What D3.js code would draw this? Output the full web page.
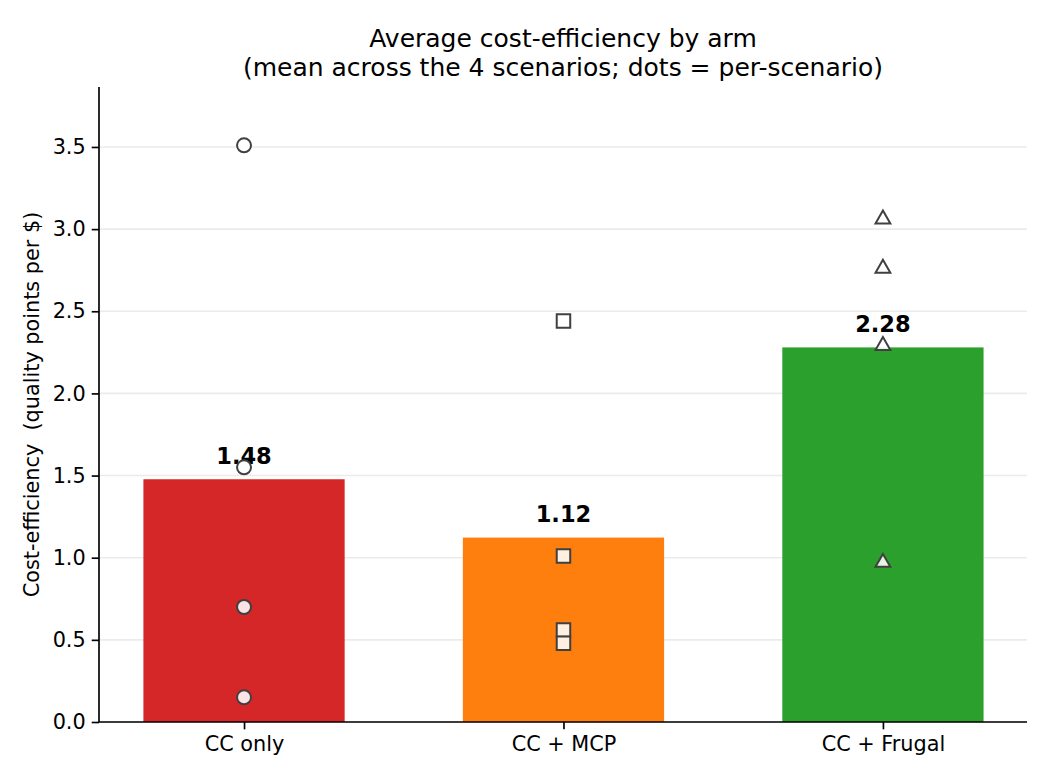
<!DOCTYPE html>
<html>
<head>
<meta charset="utf-8">
<script src="https://cdn.jsdelivr.net/npm/d3@7"></script>
<style>
  html, body { margin: 0; padding: 0; background: #ffffff; }
  svg { display: block; font-family: "DejaVu Sans", sans-serif; }
</style>
</head>
<body>
<svg id="chart" width="1050" height="780"></svg>
<script>
const categories = ["CC only", "CC + MCP", "CC + Frugal"];
const barColors = ["#d62728", "#ff7f0e", "#2ca02c"];
const markerShapes = ["circle", "square", "triangle"];
const scenarioCCOnly = [3.51, 1.55, 0.70, 0.15];
const scenarioCCMCP = [2.44, 1.01, 0.56, 0.48];
const scenarioCCFrugal = [3.07, 2.77, 2.30, 0.98];
const yTicks = [0.0, 0.5, 1.0, 1.5, 2.0, 2.5, 3.0, 3.5];
const titleLines = ["Average cost-efficiency by arm", "(mean across the 4 scenarios; dots = per-scenario)"];
const yLabel = "Cost-efficiency  (quality points per $)";

(function () {
const scenarios = [scenarioCCOnly, scenarioCCMCP, scenarioCCFrugal];
const means = scenarios.map(s => d3.mean(s));

const svg = d3.select("#chart");
svg.append("rect").attr("width", 1050).attr("height", 780).attr("fill", "#ffffff");

const pLeft = 99, pRight = 1027, pTop = 87, pBottom = 722;
const x = d3.scaleLinear().domain([-0.454, 2.451]).range([pLeft, pRight]);
const y = d3.scaleLinear().domain([0, 3.865]).range([pBottom, pTop]);
const barW = 0.63;

// grid
svg.append("g").selectAll("line").data(yTicks).join("line")
  .attr("x1", pLeft).attr("x2", pRight)
  .attr("y1", d => y(d)).attr("y2", d => y(d))
  .attr("stroke", "#ebebeb").attr("stroke-width", 1.6);

// bars
svg.append("g").selectAll("rect").data(categories).join("rect")
  .attr("x", (d, i) => x(i - barW / 2))
  .attr("width", (d, i) => x(i + barW / 2) - x(i - barW / 2))
  .attr("y", (d, i) => y(means[i]))
  .attr("height", (d, i) => y(0) - y(means[i]))
  .attr("fill", (d, i) => barColors[i]);

// value labels
svg.append("g").selectAll("text").data(categories).join("text")
  .attr("x", (d, i) => x(i))
  .attr("y", (d, i) => y(means[i]) - 15.5)
  .attr("text-anchor", "middle")
  .attr("font-size", 22.5).attr("font-weight", "bold").attr("fill", "#000")
  .text((d, i) => means[i].toFixed(2));

// markers
const symType = { circle: d3.symbolCircle, square: d3.symbolSquare, triangle: d3.symbolTriangle };
const symSize = { circle: Math.PI * 7 * 7, square: 13.5 * 13.5, triangle: 95 };
const pts = [];
scenarios.forEach((s, i) => s.forEach(v => pts.push({ i, v })));
svg.append("g").selectAll("path").data(pts).join("path")
  .attr("d", d => d3.symbol().type(symType[markerShapes[d.i]]).size(symSize[markerShapes[d.i]])())
  .attr("transform", d => `translate(${x(d.i)},${y(d.v) + (markerShapes[d.i] === "triangle" ? 1.5 : 0)})`)
  .attr("fill", "rgba(255,255,255,0.88)")
  .attr("stroke", "#404040").attr("stroke-width", 2);

// axes
const yAxis = d3.axisLeft(y).tickValues(yTicks).tickFormat(d3.format(".1f")).tickSize(7.3).tickPadding(6);
const gy = svg.append("g").attr("transform", `translate(${pLeft},0)`).call(yAxis);
gy.select(".domain").attr("d", `M0,${pTop}V${pBottom}`).attr("stroke", "#000").attr("stroke-width", 1.67);
gy.selectAll(".tick line").attr("stroke", "#000").attr("stroke-width", 1.67);
gy.selectAll(".tick text").attr("font-size", 20.8).attr("fill", "#000").attr("font-family", "DejaVu Sans");

const xAxis = d3.axisBottom(x).tickValues([0, 1, 2]).tickFormat(i => categories[i]).tickSize(7.3).tickPadding(7);
const gx = svg.append("g").attr("transform", `translate(0,${pBottom})`).call(xAxis);
gx.select(".domain").attr("d", `M${pLeft},0H${pRight}`).attr("stroke", "#000").attr("stroke-width", 1.67);
gx.selectAll(".tick line").attr("stroke", "#000").attr("stroke-width", 1.67);
gx.selectAll(".tick text").attr("font-size", 20.8).attr("fill", "#000").attr("font-family", "DejaVu Sans");

// title
svg.append("g").selectAll("text").data(titleLines).join("text")
  .attr("x", (pLeft + pRight) / 2)
  .attr("y", (d, i) => 47 + i * 28.5)
  .attr("text-anchor", "middle").attr("font-size", 25).attr("fill", "#000")
  .text(d => d);

// y label
svg.append("text")
  .attr("transform", `translate(39,${(pTop + pBottom) / 2}) rotate(-90)`)
  .attr("text-anchor", "middle").attr("font-size", 20.8).attr("fill", "#000")
  .style("white-space", "pre")
  .text(yLabel);
})();
</script>
</body>
</html>
